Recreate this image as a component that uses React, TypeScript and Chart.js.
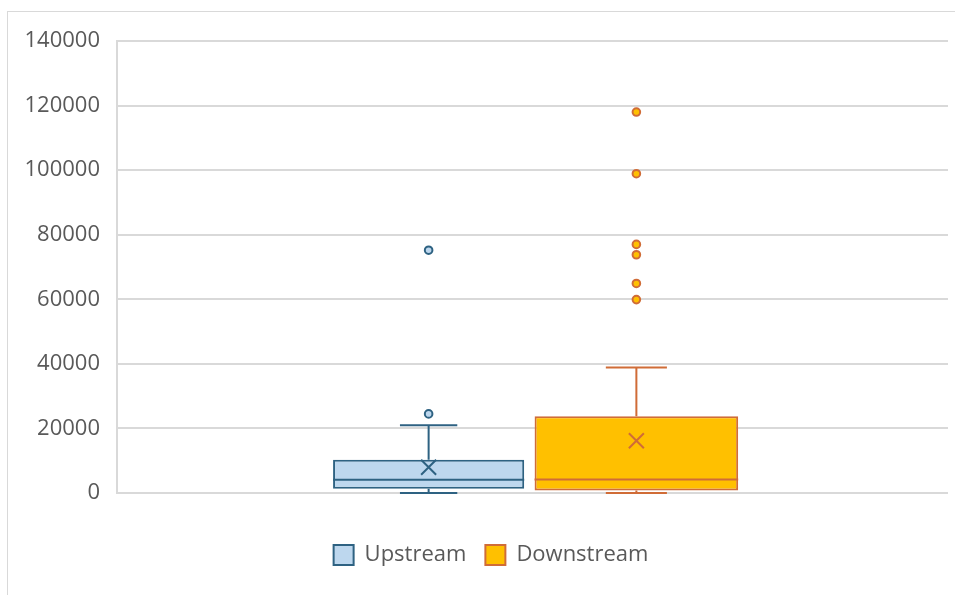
import React, { useEffect, useRef } from "react";
import { Chart, registerables } from "chart.js";

Chart.register(...registerables);

const categories = [""];
const seriesNames = ["Upstream", "Downstream"];
const mins = [0, 0];
const q1s = [1300, 800];
const medians = [4100, 4200];
const q3s = [10300, 23800];
const maxs = [21000, 38900];
const means = [8000, 16200];
const upstreamOutliers = [24500, 75200];
const downstreamOutliers = [59900, 64900, 73800, 77000, 98900, 118000];
const yMin = 0;
const yMax = 140000;
const yStep = 20000;

const fills = ["#BDD7EE", "#FFC000"];
const borders = ["#2E6282", "#D06C37"];
const outliers = [upstreamOutliers, downstreamOutliers];

const FONT = "'Open Sans', 'Noto Sans', sans-serif";
const TEXT = "#595959";
const GRID = "#D9D9D9";

const legendShift = {
  id: "legendShift",
  afterLayout(chart: any) {
    const lg = chart.legend;
    if (lg) {
      lg.left += 17;
      lg.right += 17;
    }
  },
};

const boxPlugin = {
  id: "boxExtras",
  afterDatasetsDraw(chart: any) {
    const ctx = chart.ctx;
    const y = chart.scales.y;
    chart.data.datasets.forEach((_: any, i: number) => {
      const meta = chart.getDatasetMeta(i);
      const bar = meta.data[0];
      if (!bar) return;
      const x = bar.x;
      const w = bar.width;
      const left = x - w / 2;
      const right = x + w / 2;
      const capHalf = w * 0.15;
      ctx.save();
      ctx.strokeStyle = borders[i];
      ctx.lineWidth = 2;
      const pMin = y.getPixelForValue(mins[i]);
      const pMax = y.getPixelForValue(maxs[i]);
      const pQ1 = y.getPixelForValue(q1s[i]);
      const pQ3 = y.getPixelForValue(q3s[i]);
      ctx.beginPath();
      ctx.moveTo(x, pQ3);
      ctx.lineTo(x, pMax);
      ctx.moveTo(x - capHalf, pMax);
      ctx.lineTo(x + capHalf, pMax);
      ctx.moveTo(x, pQ1);
      ctx.lineTo(x, pMin);
      ctx.moveTo(x - capHalf, pMin);
      ctx.lineTo(x + capHalf, pMin);
      ctx.stroke();
      const pMed = y.getPixelForValue(medians[i]);
      ctx.beginPath();
      ctx.moveTo(left, pMed);
      ctx.lineTo(right, pMed);
      ctx.stroke();
      const pMean = y.getPixelForValue(means[i]);
      const s = 7.5;
      ctx.beginPath();
      ctx.moveTo(x - s, pMean - s);
      ctx.lineTo(x + s, pMean + s);
      ctx.moveTo(x + s, pMean - s);
      ctx.lineTo(x - s, pMean + s);
      ctx.stroke();
      ctx.fillStyle = fills[i];
      outliers[i].forEach((v) => {
        const py = y.getPixelForValue(v);
        ctx.beginPath();
        ctx.arc(x, py, 3.8, 0, Math.PI * 2);
        ctx.fill();
        ctx.stroke();
      });
      ctx.restore();
    });
  },
};

export default function App() {
  const ref = useRef<HTMLCanvasElement | null>(null);
  useEffect(() => {
    document.body.style.margin = "0";
    const canvas = ref.current!;
    const chart = new Chart(canvas, {
      type: "bar",
      data: {
        labels: categories,
        datasets: seriesNames.map((name, i) => ({
          label: name,
          data: [[q1s[i], q3s[i]]] as any,
          backgroundColor: fills[i],
          borderColor: borders[i],
          borderWidth: 2,
          borderSkipped: false,
          categoryPercentage: 0.5,
          barPercentage: i === 0 ? 0.92 : 0.98,
        })),
      },
      options: {
        animation: false,
        responsive: false,
        maintainAspectRatio: false,
        layout: { padding: { top: 41, right: 7, left: 0, bottom: 19 } },
        plugins: {
          legend: {
            position: "bottom",
            labels: {
              boxWidth: 20,
              boxHeight: 20,
              padding: 19,
              color: TEXT,
              font: { family: FONT, size: 22 },
            },
          },
          tooltip: { enabled: false },
        },
        scales: {
          x: {
            display: true,
            grid: { display: false },
            border: { display: false },
            ticks: { display: false },
            afterFit: (s: any) => {
              s.height = 32;
            },
          },
          y: {
            min: yMin,
            max: yMax,
            ticks: {
              stepSize: yStep,
              color: TEXT,
              padding: 17,
              font: { family: FONT, size: 22 },
              callback: (v: any) => String(v),
            },
            grid: { color: GRID, lineWidth: 2, drawTicks: false },
            border: { display: true, color: GRID, width: 2 },
            afterFit: (s: any) => {
              s.width = 117;
            },
          },
        },
      },
      plugins: [boxPlugin, legendShift],
    });
    return () => chart.destroy();
  }, []);
  return (
    <div style={{ position: "relative", width: 955, height: 595, overflow: "hidden" }}>
      <div
        style={{
          position: "absolute",
          left: 7,
          top: 11,
          width: 980,
          height: 620,
          border: "1px solid #D9D9D9",
          boxSizing: "border-box",
        }}
      />
      <canvas ref={ref} width={955} height={595} style={{ position: "absolute", left: 0, top: 0 }} />
    </div>
  );
}
